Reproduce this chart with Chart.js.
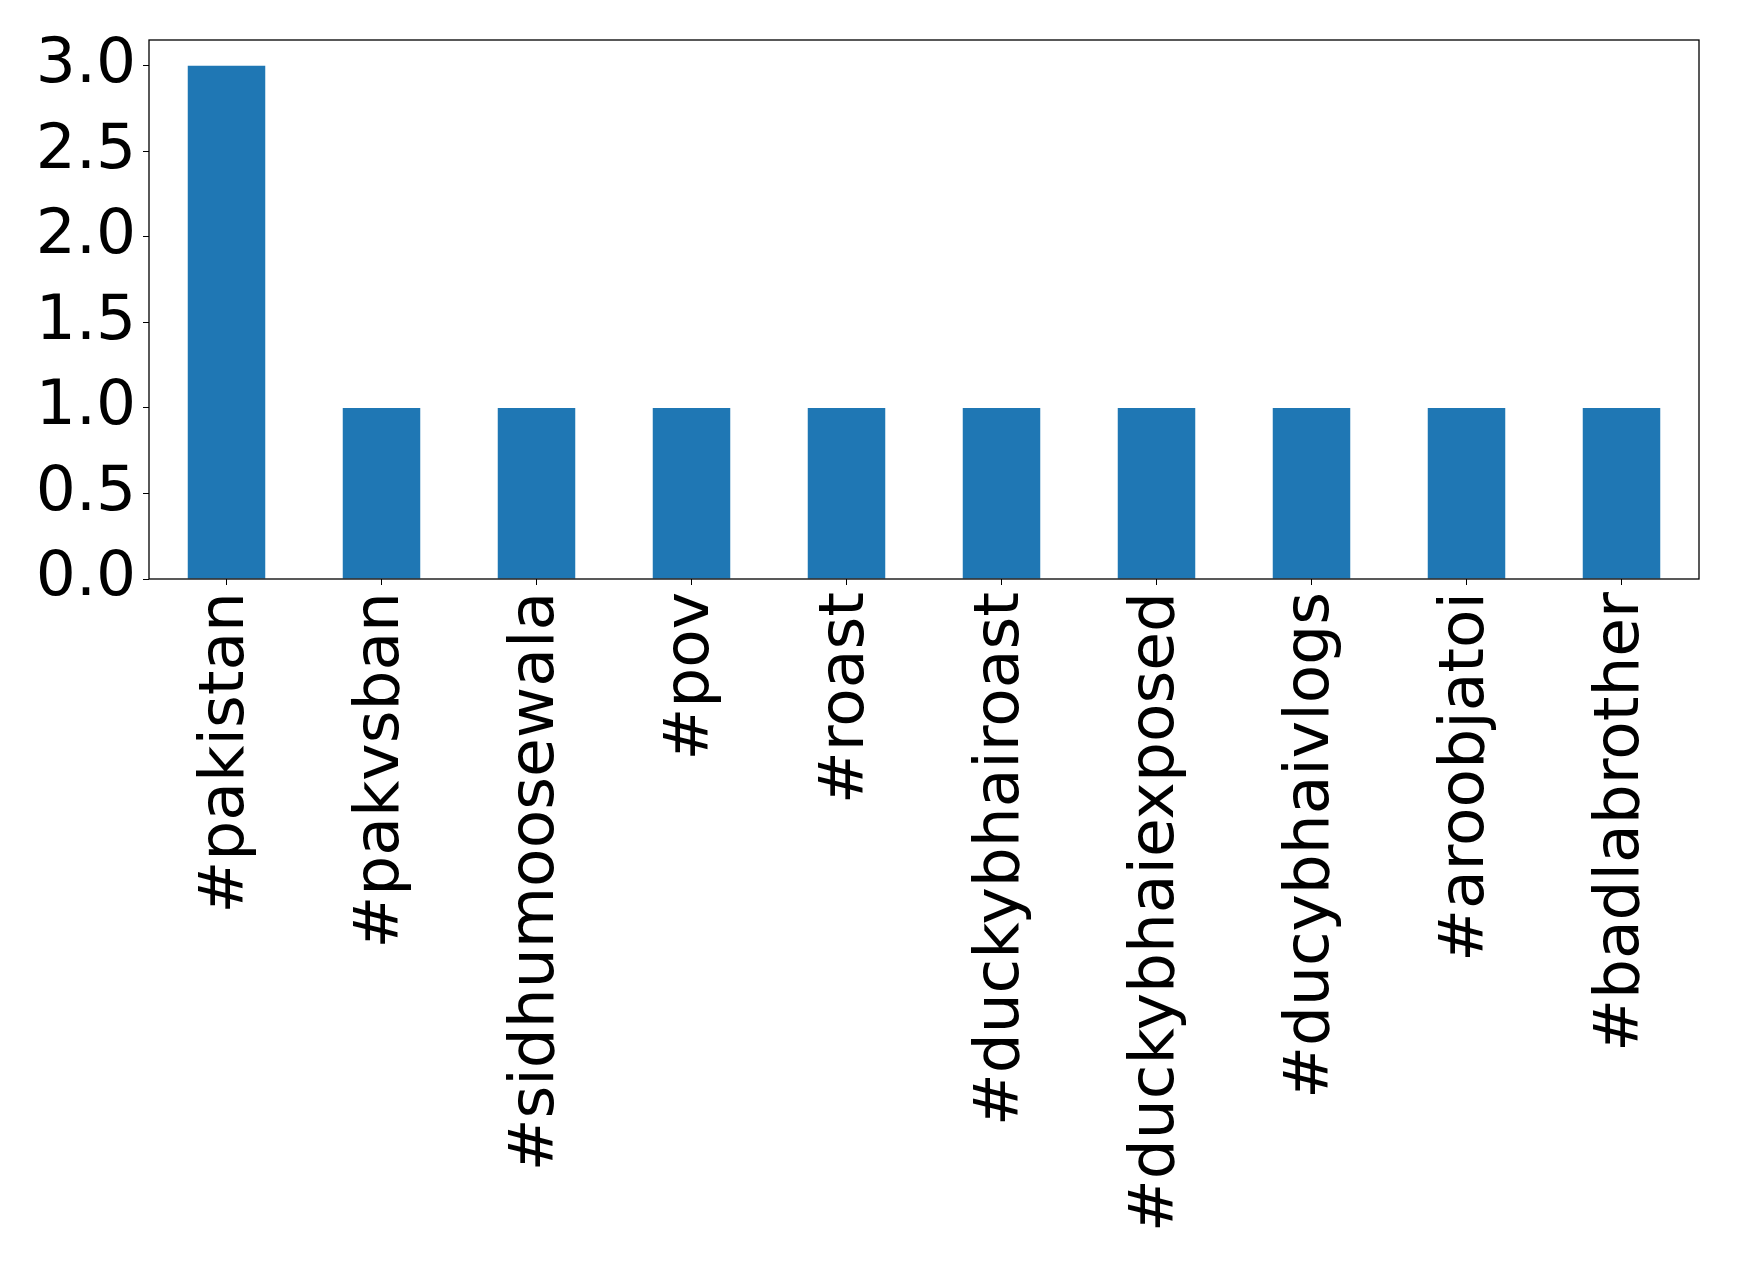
<!DOCTYPE html>
<html>
<head>
<meta charset="utf-8">
<script src="https://cdn.jsdelivr.net/npm/chart.js@4.4.1/dist/chart.umd.min.js"></script>
<style>
  html, body { margin: 0; padding: 0; background: #fff; }
  #wrap { width: 1739px; height: 1263px; }
</style>
</head>
<body>
<div id="wrap"><canvas id="hashtagChart" width="1739" height="1263"></canvas></div>
<script>
// hashtag counts
const hashtags = ['#pakistan', '#pakvsban', '#sidhumoosewala', '#pov', '#roast',
  '#duckybhairoast', '#duckybhaiexposed', '#ducybhaivlogs', '#aroobjatoi', '#badlabrother'];
const counts = [3, 1, 1, 1, 1, 1, 1, 1, 1, 1];
const yTicks = [0, 0.5, 1, 1.5, 2, 2.5, 3];

// draws the full frame around the plot area (matplotlib style box)
const frameBox = {
  id: 'frameBox',
  afterDraw(chart) {
    const { ctx, chartArea: a } = chart;
    ctx.save();
    ctx.strokeStyle = '#000';
    ctx.lineWidth = 1.3;
    ctx.strokeRect(a.left, a.top, a.right - a.left, a.bottom - a.top);
    ctx.restore();
  }
};

const ctx = document.getElementById('hashtagChart').getContext('2d');
new Chart(ctx, {
  type: 'bar',
  data: {
    labels: hashtags,
    datasets: [{
      data: counts,
      backgroundColor: '#1f77b4',
      borderWidth: 0,
      barPercentage: 0.5,
      categoryPercentage: 1
    }]
  },
  options: {
    responsive: false,
    animation: false,
    layout: { padding: { left: 0, right: 40, top: 40, bottom: 0 } },
    plugins: {
      legend: { display: false },
      tooltip: { enabled: false }
    },
    scales: {
      x: {
        offset: true,
        grid: { display: true, offset: false, drawOnChartArea: false, tickLength: 6, tickColor: '#000', tickWidth: 1 },
        border: { display: false },
        ticks: {
          color: '#000',
          padding: 7,
          minRotation: 90,
          maxRotation: 90,
          autoSkip: false,
          font: { family: 'DejaVu Sans', size: 63 }
        },
        afterFit(scale) {
          scale.height = 1263 - 579;
          scale.paddingLeft = 0;
          scale.paddingRight = 0;
        }
      },
      y: {
        min: 0,
        max: 3.15,
        grid: { display: true, drawOnChartArea: false, tickLength: 6, tickColor: '#000', tickWidth: 1 },
        border: { display: false },
        afterBuildTicks(scale) {
          scale.ticks = yTicks.map(v => ({ value: v }));
        },
        ticks: {
          color: '#000',
          padding: 7,
          font: { family: 'DejaVu Sans', size: 63 },
          callback: v => v.toFixed(1)
        },
        afterFit(scale) {
          scale.width = 149;
          scale.paddingTop = 0;
          scale.paddingBottom = 0;
        }
      }
    }
  },
  plugins: [frameBox]
});
</script>
</body>
</html>
